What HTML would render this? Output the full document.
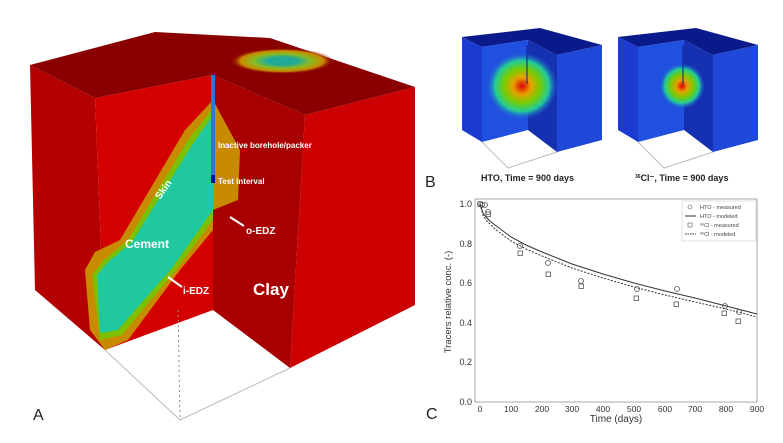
<!DOCTYPE html>
<html><head><meta charset="utf-8"><style>
html,body{margin:0;padding:0;background:#fff;width:783px;height:443px;overflow:hidden}
text{font-family:"Liberation Sans",sans-serif}
</style></head><body>
<svg width="783" height="443" viewBox="0 0 783 443" xmlns="http://www.w3.org/2000/svg">
<defs>
<radialGradient id="blob" cx="0.5" cy="0.5" r="0.5">
<stop offset="0" stop-color="#d00"/><stop offset="0.25" stop-color="#e8a000"/><stop offset="0.5" stop-color="#7c0"/><stop offset="0.75" stop-color="#2c9"/><stop offset="1" stop-color="#2050e0" stop-opacity="0"/>
</radialGradient>
<radialGradient id="ell" cx="0.5" cy="0.5" r="0.5">
<stop offset="0.3" stop-color="#2a9"/><stop offset="0.55" stop-color="#8b2"/><stop offset="0.8" stop-color="#c80"/><stop offset="1" stop-color="#800" stop-opacity="0"/>
</radialGradient>
</defs>
<polygon points="30,65 155,32 270,38 415,87 305,115 213,75 95,98" fill="#8a0000"/>
<ellipse cx="282" cy="61" rx="52" ry="13" fill="url(#ell)"/>
<polygon points="30,65 95,98 105,350 35,290" fill="#b40000"/>
<polygon points="95,98 213,75 213,310 105,350" fill="#d40000"/>
<polygon points="213,75 305,115 290,368 213,310" fill="#a80000"/>
<polygon points="305,115 415,87 415,305 290,368" fill="#cc0000"/>
<polygon points="85,270 95,252 120,240 185,130 213,100 240,150 238,200 213,210 213,230 180,270 128,340 105,350 90,330" fill="#c88a00"/>
<polygon points="92,275 104,260 128,240 188,140 213,108 213,220 176,270 122,335 100,340" fill="#7cc000"/>
<polygon points="97,275 108,262 132,242 192,145 213,115 213,210 172,268 118,330 100,333" fill="#20c8a0"/>
<polygon points="213,110 232,150 232,190 213,200" fill="#c88a00"/>
<rect x="211" y="75" width="4" height="100" fill="#2a7ad0"/>
<rect x="211" y="175" width="4" height="8" fill="#0010a0"/>
<polyline points="105,350 180,420 290,368" fill="none" stroke="#bbb" stroke-width="1"/>
<line x1="178" y1="310" x2="180" y2="420" stroke="#888" stroke-dasharray="2,3"/>
<text x="218" y="148" font-size="8" font-weight="bold" fill="#fff">Inactive borehole/packer</text>
<text x="218" y="184" font-size="8" font-weight="bold" fill="#fff">Test interval</text>
<text x="160" y="200" font-size="10" font-weight="bold" fill="#fff" transform="rotate(-55 160 200)">Skin</text>
<text x="125" y="248" font-size="12" font-weight="bold" fill="#fff">Cement</text>
<text x="246" y="234" font-size="10" font-weight="bold" fill="#fff">o-EDZ</text>
<text x="183" y="294" font-size="10" font-weight="bold" fill="#fff">i-EDZ</text>
<text x="253" y="295" font-size="17" font-weight="bold" fill="#fff">Clay</text>
<line x1="244" y1="226" x2="230" y2="217" stroke="#fff" stroke-width="2"/>
<line x1="182" y1="287" x2="168" y2="277" stroke="#fff" stroke-width="2"/>
<text x="33" y="420" font-size="16" fill="#222">A</text>
<g id="c1">
<polygon points="462,37 540,28 602,45 557,55 528,40 482,47" fill="#0a1a8a"/>
<polygon points="462,37 482,47 482,142 462,130" fill="#1a3ad0"/>
<polygon points="482,47 528,40 528,130 482,142" fill="#2050e0"/>
<polygon points="528,40 557,55 557,152 528,130" fill="#1530b0"/>
<polygon points="557,55 602,45 602,140 557,152" fill="#1f48d8"/>
<polyline points="482,142 508,168 557,152" fill="none" stroke="#bbb"/>
</g>
<ellipse cx="522" cy="86" rx="36" ry="34" fill="url(#blob)"/>
<use href="#c1" x="156"/>
<ellipse cx="682" cy="86" rx="23" ry="23" fill="url(#blob)"/>
<line x1="527" y1="45" x2="527" y2="84" stroke="#0a1a8a"/>
<line x1="683" y1="45" x2="683" y2="84" stroke="#0a1a8a"/>
<text x="481" y="181" font-size="9" font-weight="bold" fill="#222">HTO, Time = 900 days</text>
<text x="635" y="181" font-size="9" font-weight="bold" fill="#222"><tspan font-size="5" dy="-3">36</tspan><tspan dy="3">Cl⁻, Time = 900 days</tspan></text>
<text x="425" y="187" font-size="16" fill="#222">B</text>
<rect x="475" y="199" width="282" height="203" fill="#fff" stroke="#aaa" stroke-width="1"/>
<g font-size="9" fill="#333" text-anchor="end">
<text x="472" y="207">1.0</text><text x="472" y="247">0.8</text><text x="472" y="286">0.6</text><text x="472" y="326">0.4</text><text x="472" y="365">0.2</text><text x="472" y="405">0.0</text>
</g>
<g font-size="8.5" fill="#333" text-anchor="middle">
<text x="480" y="412">0</text><text x="511" y="412">100</text><text x="542" y="412">200</text><text x="572" y="412">300</text><text x="603" y="412">400</text><text x="634" y="412">500</text><text x="665" y="412">600</text><text x="695" y="412">700</text><text x="726" y="412">800</text><text x="757" y="412">900</text>
</g>
<text x="616" y="422" font-size="10" fill="#333" text-anchor="middle">Time (days)</text>
<text x="451" y="302" font-size="9.5" fill="#333" text-anchor="middle" transform="rotate(-90 451 302)">Tracers relative conc. (-)</text>
<text x="426" y="419" font-size="16" fill="#222">C</text>
<path fill="none" stroke="#333" stroke-width="1" d="M480,204 L483,213 L486,217 L490,221 L495,225 L503,231 L511,237 L526,245 L542,252 L572,264 L603,274 L634,283 L665,291 L695,298 L726,306 L757,314"/>
<path fill="none" stroke="#333" stroke-width="1" stroke-dasharray="2,1.5" d="M480,204 L483,215 L486,220 L490,224 L495,229 L503,235 L511,241 L526,249 L542,256 L572,268 L603,278 L634,287 L665,295 L695,302 L726,309 L757,317"/>
<g fill="none" stroke="#555" stroke-width="0.8">
<circle cx="480" cy="204" r="2.5"/><circle cx="482" cy="205" r="2.5"/><circle cx="485" cy="205" r="2.5"/><circle cx="488" cy="212" r="2.5"/>
<circle cx="520" cy="246" r="2.5"/><circle cx="548" cy="263" r="2.5"/><circle cx="581" cy="281" r="2.5"/><circle cx="637" cy="289" r="2.5"/><circle cx="677" cy="289" r="2.5"/><circle cx="725" cy="306" r="2.5"/><circle cx="739" cy="312" r="2.5"/>
<rect x="478" y="202" width="4.5" height="4.5"/><rect x="486" y="212" width="4.5" height="4.5"/><rect x="518" y="251" width="4.5" height="4.5"/><rect x="546" y="272" width="4.5" height="4.5"/><rect x="579" y="284" width="4.5" height="4.5"/><rect x="634" y="296" width="4.5" height="4.5"/><rect x="674" y="302" width="4.5" height="4.5"/><rect x="722" y="311" width="4.5" height="4.5"/><rect x="736" y="319" width="4.5" height="4.5"/>
</g>
<rect x="682" y="201" width="74" height="40" fill="#fff" stroke="#ccc" stroke-width="0.6"/>
<g font-size="5.5" fill="#444">
<circle cx="690" cy="207" r="2" fill="none" stroke="#555" stroke-width="0.6"/><text x="700" y="209">HTO - measured</text>
<line x1="685" y1="216" x2="696" y2="216" stroke="#333"/><text x="700" y="218">HTO - modeled</text>
<rect x="688" y="223" width="4" height="4" fill="none" stroke="#555" stroke-width="0.6"/><text x="700" y="227">³⁶Cl - measured</text>
<line x1="685" y1="234" x2="696" y2="234" stroke="#333" stroke-dasharray="1.5,1"/><text x="700" y="236">³⁶Cl - modeled</text>
</g>
</svg>
</body></html>
